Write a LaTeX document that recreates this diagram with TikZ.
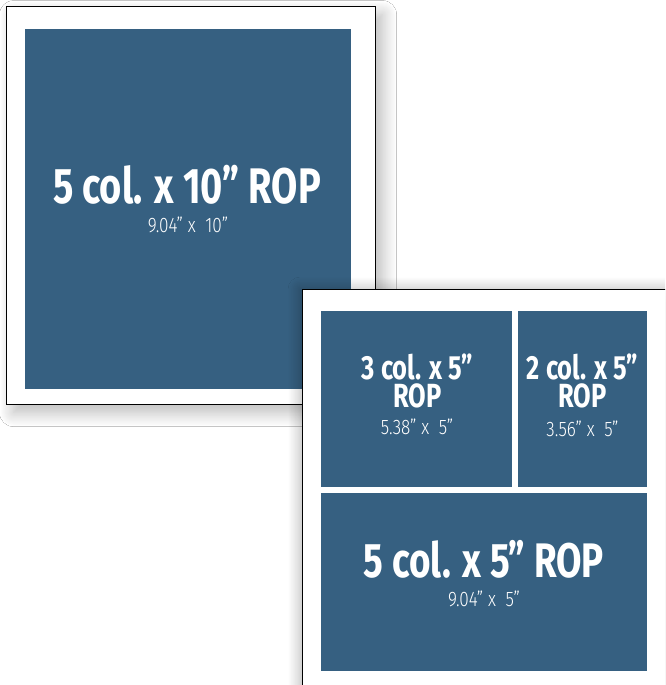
\documentclass[tikz,border=0pt]{standalone}
\usepackage{fontspec}
\newfontfamily\titlef{Fira Sans}[FakeStretch=0.76]
\newfontfamily\subf{Fira Sans Light}[FakeStretch=0.82]
\usetikzlibrary{shadows.blur}
\definecolor{adblue}{RGB}{54,96,129}
\begin{document}
\begin{tikzpicture}[x=1pt,y=-1pt,
  panel/.style={draw=black, line width=1.2pt, fill=white, anchor=north west, inner sep=0pt},
  adbox/.style={fill=adblue, draw=none, anchor=north west, inner sep=0pt},
  bigtitle/.style={text=white, font=\titlef\bfseries\fontsize{50}{50}\selectfont, anchor=base, inner sep=0pt},
  smalltitle/.style={text=white, font=\titlef\bfseries\fontsize{33.5}{28}\selectfont, anchor=north, inner sep=0pt, align=center},
  subtitle/.style={text=white, font=\subf\fontsize{21}{21}\selectfont, anchor=base, inner sep=0pt}]
\path[use as bounding box, clip] (0,0) rectangle (665,685);
\fill[white] (0,0) rectangle (665,685);
% left panel
\node[panel, minimum width=369pt, minimum height=398pt,
  blur shadow={shadow xshift=7pt, shadow yshift=-8pt, shadow blur radius=14pt, shadow blur steps=16, shadow opacity=28}]
  (leftpanel) at (6,6) {};
\node[adbox, minimum width=326pt, minimum height=360pt] (bigbox) at (25,29) {};
\node[bigtitle] (bigt) at (187,203) {5 col. x 10” ROP};
\node[subtitle] (bigs) at (188,232) {9.04” x \ 10”};
% right panel
\node[panel, minimum width=420pt, minimum height=450pt,
  blur shadow={shadow xshift=-2pt, shadow yshift=0pt, shadow blur radius=12pt, shadow blur steps=16, shadow opacity=30}]
  (rightpanel) at (301.5,288.5) {};
\node[adbox, minimum width=191pt, minimum height=176pt] (boxa) at (321,311) {};
\node[adbox, minimum width=129pt, minimum height=176pt] (boxb) at (518,311) {};
\node[adbox, minimum width=326pt, minimum height=178pt] (boxc) at (321,493) {};
\node[smalltitle] (at) at (417.5,354) {3 col. x 5”\\ROP};
\node[subtitle] (as) at (417,434) {5.38” x \ 5”};
\node[smalltitle] (bt) at (582.5,354) {2 col. x 5”\\ROP};
\node[subtitle] (bs) at (582.5,436) {3.56” x \ 5”};
\node[bigtitle, font=\titlef\bfseries\fontsize{48.5}{48.5}\selectfont] (ct) at (484,577) {5 col. x 5” ROP};
\node[subtitle] (cs) at (484,606) {9.04” x \ 5”};
\end{tikzpicture}
\end{document}
